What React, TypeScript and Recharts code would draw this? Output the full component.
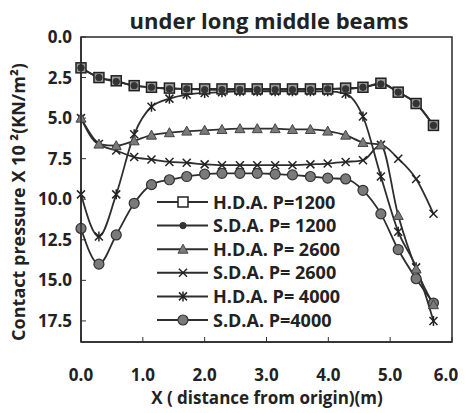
import { LineChart, Line, XAxis, YAxis, Legend } from "recharts";

// x positions of the computed points (m)
const xPos = [0, 0.29, 0.57, 0.86, 1.14, 1.43, 1.71, 2.0, 2.28, 2.57, 2.85, 3.14, 3.42, 3.71, 3.99, 4.28, 4.56, 4.85, 5.13, 5.42, 5.7];

// contact pressure x 10^2 (KN/m2)
const hda1200 = [1.9, 2.5, 2.7, 3.0, 3.1, 3.15, 3.2, 3.2, 3.2, 3.2, 3.2, 3.2, 3.2, 3.2, 3.2, 3.15, 3.1, 2.85, 3.4, 4.1, 5.45];
const sda1200 = [1.9, 2.5, 2.75, 3.0, 3.1, 3.2, 3.2, 3.25, 3.25, 3.25, 3.25, 3.25, 3.25, 3.25, 3.2, 3.2, 3.1, 2.9, 3.4, 4.1, 5.45];
const hda2600 = [5.0, 6.6, 6.7, 6.4, 6.05, 5.9, 5.8, 5.75, 5.7, 5.65, 5.65, 5.65, 5.7, 5.7, 5.8, 6.05, 6.5, 6.65, 11.0, 14.3, 16.5];
const sda2600 = [5.0, 6.6, 7.0, 7.4, 7.55, 7.7, 7.75, 7.85, 7.9, 7.9, 7.9, 7.9, 7.9, 7.85, 7.8, 7.7, 7.6, 6.65, 7.5, 8.75, 10.9];
const hda4000 = [9.7, 12.3, 9.7, 6.0, 4.3, 3.8, 3.55, 3.45, 3.4, 3.35, 3.35, 3.35, 3.35, 3.35, 3.35, 3.5, 4.9, 8.6, 12.0, 14.2, 17.5];
const sda4000 = [11.8, 14.0, 12.2, 10.25, 9.1, 8.8, 8.6, 8.45, 8.4, 8.4, 8.4, 8.45, 8.5, 8.6, 8.7, 8.75, 9.45, 10.9, 13.1, 14.9, 16.4];

const xTicks = [0, 1, 2, 3, 4, 5, 6];
const yTicks = [0, 2.5, 5, 7.5, 10, 12.5, 15, 17.5];
const seriesNames = ["H.D.A. P=1200", "S.D.A. P= 1200", "H.D.A. P= 2600", "S.D.A. P= 2600", "H.D.A. P= 4000", "S.D.A. P=4000"];

const data = xPos.map((x, i) => ({
  x,
  hda1200: hda1200[i],
  sda1200: sda1200[i],
  hda2600: hda2600[i],
  sda2600: sda2600[i],
  hda4000: hda4000[i],
  sda4000: sda4000[i],
}));

// layout
const W = 458;
const H = 400;
const TOP = 29;
const RIGHT = 14;
const YAXIS_W = 73;
const XAXIS_H = 66;
const PAGE = 8; // body margin

const FONT = "'Open Sans', 'Liberation Sans', sans-serif";
const INK = "#2e2e2e";
const FRAME = { stroke: "#2a2a2a", strokeWidth: 1.5 };

// marker shapes
function markSquare(cx: number, cy: number, k: string, open = false) {
  return <rect key={k} x={cx - 5} y={cy - 5} width={10} height={10} fill={open ? "#fff" : "#9a9a9a"} stroke="#222" strokeWidth={1.5} />;
}
function markSmallCircle(cx: number, cy: number, k: string) {
  return <circle key={k} cx={cx} cy={cy} r={3.2} fill="#333" stroke="#333" />;
}
function markTriangle(cx: number, cy: number, k: string) {
  return <polygon key={k} points={`${cx},${cy - 5} ${cx - 5},${cy + 4} ${cx + 5},${cy + 4}`} fill="#7a7a7a" stroke="#444" strokeWidth={1} />;
}
function markX(cx: number, cy: number, k: string) {
  return (
    <g key={k} stroke="#222" strokeWidth={1.5}>
      <line x1={cx - 4} y1={cy - 4} x2={cx + 4} y2={cy + 4} />
      <line x1={cx - 4} y1={cy + 4} x2={cx + 4} y2={cy - 4} />
    </g>
  );
}
function markStar(cx: number, cy: number, k: string) {
  return (
    <g key={k} stroke="#222" strokeWidth={1.5}>
      <line x1={cx - 4} y1={cy - 4} x2={cx + 4} y2={cy + 4} />
      <line x1={cx - 4} y1={cy + 4} x2={cx + 4} y2={cy - 4} />
      <line x1={cx} y1={cy - 5} x2={cx} y2={cy + 5} />
    </g>
  );
}
function markBigCircle(cx: number, cy: number, k: string) {
  return <circle key={k} cx={cx} cy={cy} r={5} fill="#7a7a7a" stroke="#333" strokeWidth={1.2} />;
}

const markers = [
  (cx: number, cy: number, k: string) => markSquare(cx, cy, k, true),
  markSmallCircle,
  markTriangle,
  markX,
  markStar,
  markBigCircle,
];

const dotOf = (id: string, fn: (cx: number, cy: number, k: string) => any) => (p: any) => {
  if (p.cx == null || p.cy == null) return <g key={`${id}-${p.index}`} />;
  return fn(p.cx, p.cy, `${id}-${p.index}`);
};

const renderLegend = () => (
  <svg width={210} height={145} style={{ fontFamily: FONT }}>
    {seriesNames.map((name, i) => {
      const y = 14 + i * 23.6;
      return (
        <g key={name}>
          <line x1={9} y1={y} x2={60} y2={y} stroke={INK} strokeWidth={2} />
          {markers[i](35, y, `lg-${i}`)}
          <text x={65} y={y + 6.5} fontSize={18} fontWeight={700} fill="#222">
            {name}
          </text>
        </g>
      );
    })}
  </svg>
);

const tickStyle = { fontSize: 17, fontWeight: 700, fill: "#222", fontFamily: FONT };

// x tick: the last label is pulled in from the right edge as in the original
const XTick = (p: any) => {
  const v = p.payload.value;
  return (
    <text x={p.x} y={p.y} dx={v === 6 ? -6 : 0} dy="0.71em" textAnchor="middle" {...tickStyle}>
      {v.toFixed(1)}
    </text>
  );
};

export default function App() {
  return (
    <div style={{ position: "relative", width: W, height: H, fontFamily: FONT }}>
      <LineChart width={W} height={H} data={data} margin={{ top: TOP, right: RIGHT, left: 0, bottom: 0 }}>
        <XAxis
          type="number"
          dataKey="x"
          domain={[0, 6]}
          ticks={xTicks}
          height={XAXIS_H}
          axisLine={FRAME}
          tickLine={{ stroke: "#333" }}
          tickSize={-5}
          tickMargin={32}
          tick={XTick}
        />
        <YAxis
          type="number"
          reversed
          domain={[0, 18.8]}
          ticks={yTicks}
          tickFormatter={(v) => v.toFixed(1)}
          width={YAXIS_W}
          axisLine={FRAME}
          tickLine={{ stroke: "#333" }}
          tickSize={-5}
          tickMargin={14}
          tick={tickStyle}
          allowDataOverflow
        />
        <Legend layout="horizontal" verticalAlign="middle" align="center" content={renderLegend} wrapperStyle={{ left: 140, top: 180, width: 210, height: 145 }} />
        <Line type="monotone" dataKey="sda4000" stroke={INK} strokeWidth={1.8} dot={dotOf("f", markBigCircle)} isAnimationActive={false} />
        <Line type="monotone" dataKey="hda4000" stroke={INK} strokeWidth={1.8} dot={dotOf("e", markStar)} isAnimationActive={false} />
        <Line type="monotone" dataKey="sda2600" stroke={INK} strokeWidth={1.8} dot={dotOf("d", markX)} isAnimationActive={false} />
        <Line type="monotone" dataKey="hda2600" stroke={INK} strokeWidth={1.8} dot={dotOf("c", markTriangle)} isAnimationActive={false} />
        <Line type="monotone" dataKey="hda1200" stroke={INK} strokeWidth={1.8} dot={dotOf("a", (cx, cy, k) => markSquare(cx, cy, k))} isAnimationActive={false} />
        <Line type="monotone" dataKey="sda1200" stroke={INK} strokeWidth={1.8} dot={dotOf("b", markSmallCircle)} isAnimationActive={false} />
      </LineChart>
      {/* titles and the plot frame, in page coordinates */}
      <svg width={W + PAGE} height={H + 13} style={{ position: "absolute", left: -PAGE, top: -PAGE, pointerEvents: "none" }}>
        <rect
          x={PAGE + YAXIS_W}
          y={PAGE + TOP}
          width={W - RIGHT - YAXIS_W}
          height={H - XAXIS_H - TOP}
          fill="none"
          stroke="#2a2a2a"
          strokeWidth={1.5}
        />
        <text x={269} y={29} textAnchor="middle" fontSize={22} fontWeight={700} fill="#222" fontFamily={FONT}>
          under long middle beams
        </text>
        <text transform="translate(25,202) rotate(-90)" textAnchor="middle" fontSize={18} fontWeight={700} fill="#222" fontFamily={FONT}>
          Contact pressure  X 10 ²(KN/m²)
        </text>
        <text x={267} y={404} textAnchor="middle" fontSize={17} fontWeight={700} fill="#222" fontFamily={FONT}>
          X ( distance from origin)(m)
        </text>
      </svg>
    </div>
  );
}
